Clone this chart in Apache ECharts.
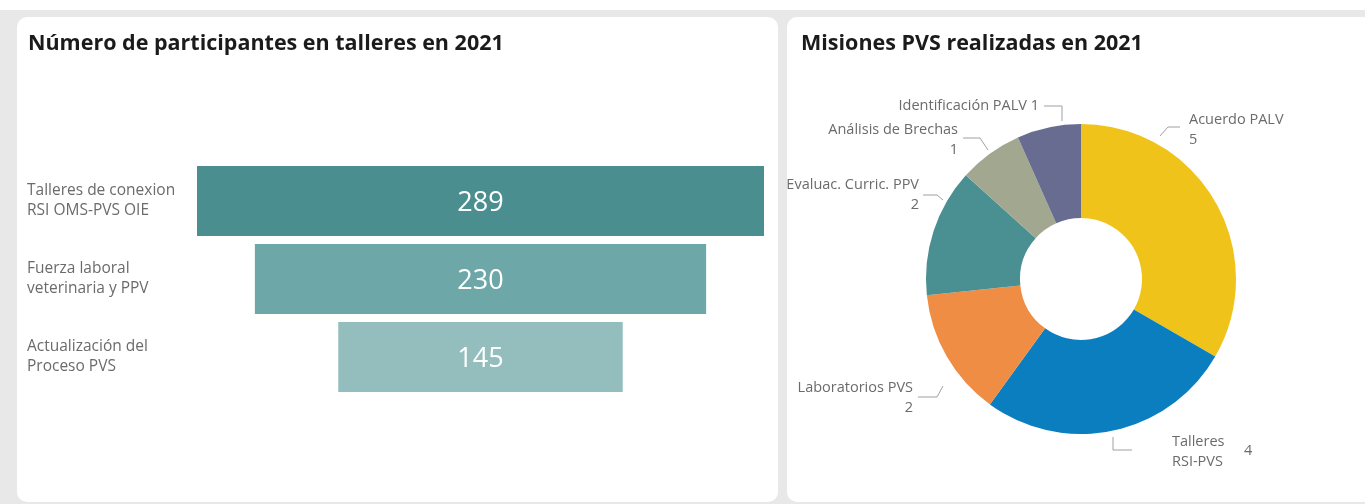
<!DOCTYPE html>
<html>
<head>
<meta charset="utf-8">
<script src="https://cdn.jsdelivr.net/npm/echarts@6/dist/echarts.min.js"></script>
<style>
  html, body { margin:0; padding:0; width:1365px; height:504px; overflow:hidden; background:#ffffff; }
  #bg { position:absolute; left:0; top:10px; width:1365px; height:494px; background:#e8e8e8; }
  .card { position:absolute; background:#ffffff; border-radius:10px; overflow:hidden; }
  #c1 { left:17px; top:17px; width:761px; height:485px; }
  #c2 { left:787px; top:17px; width:600px; height:485px; }
</style>
</head>
<body>
<div id="bg"></div>
<div class="card" id="c1"></div>
<div class="card" id="c2"></div>
<script>
// ---- data ----
var funnelTitle = 'Número de participantes en talleres en 2021';
var funnelCategories = ['Talleres de conexion\nRSI OMS-PVS OIE', 'Fuerza laboral\nveterinaria y PPV', 'Actualización del\nProceso PVS'];
var funnelValues = [289, 230, 145];
var funnelColors = ['#4b8e90', '#6ea7a8', '#94bebe'];

var pieTitle = 'Misiones PVS realizadas en 2021';
var pieNames = ['Acuerdo PALV', 'Talleres RSI-PVS', 'Laboratorios PVS', 'Evaluac. Curric. PPV', 'Análisis de Brechas', 'Identificación PALV'];
var pieValues = [5, 4, 2, 2, 1, 1];
var pieColors = ['#f0c31a', '#0a7ebf', '#f08d45', '#4a8f91', '#a1a88f', '#686c91'];

var FONT = '"Open Sans", "Noto Sans", sans-serif';

// ---- left: funnel made of centred bars ----
var maxV = Math.max.apply(null, funnelValues);
var chart1 = echarts.init(document.getElementById('c1'), null, {renderer:'canvas'});
chart1.setOption({
  animation: false,
  title: { text: funnelTitle, left: 6, top: 11,
    textStyle: { fontFamily: FONT, fontSize: 21.5, fontWeight: 'bold', color: '#1b1b1b' } },
  grid: { left: 180, right: 14, top: 145, height: 234 },
  xAxis: { type: 'value', min: -maxV / 2, max: maxV / 2, show: false },
  yAxis: { type: 'category', inverse: true, data: funnelCategories,
    axisLine: { show: false }, axisTick: { show: false },
    axisLabel: { align: 'left', margin: 170, fontFamily: FONT, fontSize: 15.5, lineHeight: 20, color: '#6b6b6b' } },
  series: [{
    type: 'custom',
    data: funnelValues.map(function (v, i) { return [i, v]; }),
    encode: { x: 1, y: 0 },
    renderItem: function (params, api) {
      var idx = api.value(0), v = api.value(1);
      var p0 = api.coord([-v / 2, idx]);
      var p1 = api.coord([v / 2, idx]);
      var band = api.size([0, 1])[1];
      var h = band - 8;
      return {
        type: 'rect',
        shape: { x: p0[0], y: p0[1] - h / 2, width: p1[0] - p0[0], height: h },
        style: { fill: funnelColors[idx] },
        textContent: { style: { text: String(v), fill: '#ffffff', fontFamily: FONT, fontSize: 27 } },
        textConfig: { position: 'inside', offset: [0, 2] }
      };
    }
  }]
});

// ---- right: donut ----
// label anchors and leader-line paths (card pixel space), per slice
var labelPos = [
  { x: 402, y: 113, align: 'left',  line: [[373, 119], [381, 110], [393, 110]] },
  { x: 385, y: 435, align: 'left',  line: [[326, 420], [326, 433], [345, 433]] },
  { x: 126, y: 381, align: 'right', line: [[156, 369], [150, 380], [131, 380]] },
  { x: 132, y: 178, align: 'right', line: [[156, 183], [150, 178], [136, 178]] },
  { x: 171, y: 123, align: 'right', line: [[201, 133], [193, 121], [176, 121]] },
  { x: 252, y: 89,  align: 'right', line: [[275, 104], [275, 89], [257, 89]] }
];
var pieData = pieNames.map(function (n, i) {
  return { name: n, value: pieValues[i], itemStyle: { color: pieColors[i] } };
});
var chart2 = echarts.init(document.getElementById('c2'), null, {renderer:'canvas'});
chart2.setOption({
  animation: false,
  title: { text: pieTitle, left: 9, top: 11,
    textStyle: { fontFamily: FONT, fontSize: 21.5, fontWeight: 'bold', color: '#1b1b1b' } },
  series: [{
    type: 'pie',
    center: [294, 262],
    radius: [61, 155],
    startAngle: 90,
    clockwise: true,
    data: pieData,
    label: {
      show: true, position: 'outside', fontFamily: FONT, fontSize: 14.5, lineHeight: 20, color: '#6b6b6b',
      overflow: 'none',
      formatter: function (p) {
        if (p.dataIndex === 5) return p.name + ' ' + p.value;
        if (p.dataIndex === 1) return 'Talleres\nRSI-PVS';
        return p.name + '\n' + p.value;
      }
    },
    labelLine: { show: true, length: 10, length2: 12, lineStyle: { color: '#a0a0a0', width: 1 } },
    labelLayout: function (p) {
      var lp = labelPos[p.dataIndex];
      return { x: lp.x, y: lp.y, align: lp.align, verticalAlign: 'middle', labelLinePoints: lp.line };
    }
  }, {
    type: 'pie',
    center: [294, 262],
    radius: [61, 155],
    startAngle: 90,
    clockwise: true,
    silent: true,
    z: 1,
    data: pieData.map(function (d, i) {
      return { name: d.name, value: d.value, itemStyle: { color: 'rgba(0,0,0,0)' },
        label: { show: i === 1 } };
    }),
    label: { position: 'outside', fontFamily: FONT, fontSize: 14.5, color: '#6b6b6b', formatter: '{c}' },
    labelLine: { show: false },
    labelLayout: function (p) {
      return { x: 457, y: 434, align: 'left', verticalAlign: 'middle' };
    }
  }]
});
</script>
</body>
</html>
